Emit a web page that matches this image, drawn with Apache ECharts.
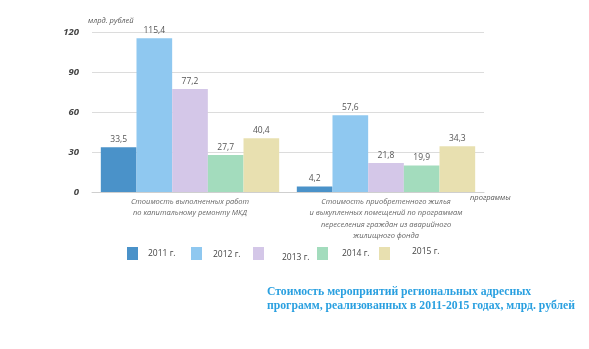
<!DOCTYPE html>
<html><head><meta charset="utf-8">
<script src="https://cdn.jsdelivr.net/npm/echarts@6/dist/echarts.min.js"></script>
<style>html,body{margin:0;padding:0;background:#fff}#c{width:589px;height:349px}</style>
</head><body><div id="c"></div>
<script>
const categories = [
  "Стоимость выполненных работ\nпо капитальному ремонту МКД",
  "Стоимость приобретенного жилья\nи выкупленных помещений по программам\nпереселения граждан из аварийного\nжилищного фонда"
];
const years = ["2011 г.", "2012 г.", "2013 г.", "2014 г.", "2015 г."];
const values2011 = [33.5, 4.2];
const values2012 = [115.4, 57.6];
const values2013 = [77.2, 21.8];
const values2014 = [27.7, 19.9];
const values2015 = [40.4, 34.3];
const yTicks = [0, 30, 60, 90, 120];
const colors = ["#4a92c9", "#8fc8f0", "#d4c7e8", "#a3dcbd", "#e8e0b0"];
const allValues = [values2011, values2012, values2013, values2014, values2015];

const chart = echarts.init(document.getElementById('c'));
const legendLeft = [127, 191, 253, 317, 379];
const legendTextX = [148, 213, 282, 342, 412];
const legendTextY = [249, 250, 253, 249, 247];
const legends = years.map((y, i) => ({
  data: [{name: y, icon: 'rect'}], left: legendLeft[i], top: 247, padding: 0, itemWidth: 11, itemHeight: 13, itemGap: 0,
  formatter: () => '', textStyle: {fontSize: 8, padding: 0},
  selectedMode: false
}));
const legendTexts = years.map((y, i) => ({
  type: 'text', left: legendTextX[i], top: legendTextY[i],
  style: {text: y, fontSize: 8.5, fill: '#444', fontFamily: 'Open Sans'}
}));
chart.setOption({
  animation: false,
  color: colors,
  grid: {left: 92, right: 105, top: 32, height: 160},
  legend: legends,
  xAxis: {
    type: 'category', data: categories,
    axisLine: {lineStyle: {color: '#cfcfcf'}}, axisTick: {show: false},
    axisLabel: {interval: 0, fontSize: 7.5, fontStyle: 'italic', color: '#666', lineHeight: 11.5, margin: 4, fontFamily: 'Open Sans'}
  },
  yAxis: {
    type: 'value', min: yTicks[0], max: yTicks[yTicks.length-1], interval: 30,
    name: 'млрд. рублей', nameLocation: 'end', nameGap: 7,
    nameTextStyle: {fontSize: 7.5, fontStyle: 'italic', color: '#555', align: 'left', padding: [0,0,0,-4], fontFamily: 'Open Sans'},
    axisLine: {show: false}, axisTick: {show: false},
    axisLabel: {fontSize: 9.5, fontStyle: 'italic', fontWeight: 'bold', color: '#444', margin: 13, fontFamily: 'Open Sans'},
    splitLine: {lineStyle: {color: '#dcdcdc'}}
  },
  series: years.map((y, i) => ({
    name: y, type: 'bar', data: allValues[i], barCategoryGap: '9%', barGap: '0%',
    label: {show: true, position: 'top', distance: 3, fontSize: 8.5, color: '#555', fontFamily: 'Open Sans',
      formatter: p => String(p.value).replace('.', ',')}
  })),
  graphic: legendTexts.concat([
    {type: 'text', left: 470, top: 194, style: {text: 'программы', fontSize: 7.5, fontStyle: 'italic', fill: '#555', fontFamily: 'Open Sans'}},
    {type: 'text', left: 267, top: 285, style: {text: 'Стоимость мероприятий региональных адресных\nпрограмм, реализованных в 2011-2015 годах, млрд. рублей',
      fontSize: 11.7, fontWeight: 'bold', fill: '#2aa0e0', fontFamily: 'Liberation Serif', lineHeight: 14}}
  ])
});
</script></body></html>
